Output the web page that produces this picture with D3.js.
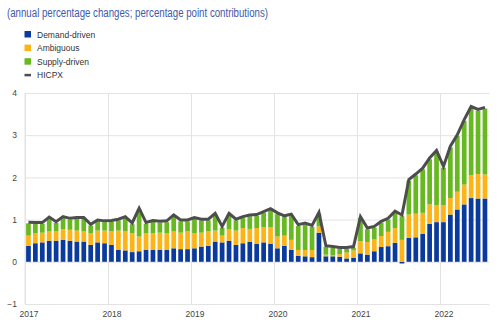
<!DOCTYPE html>
<html lang="en">
<head>
<meta charset="UTF-8">
<title>HICPX demand and supply drivers</title>
<style>
    html, body {
        margin: 0;
        padding: 0;
        background: #fff;
    }
    svg text {
        font-family: "Liberation Sans", Arial, sans-serif;
    }
</style>
</head>
<body>
<div id="chart"></div>
<script src="https://d3js.org/d3.v7.min.js"></script>
<script>
    // monthly data, Jan 2017 - Jul 2022
    const demand = [
        0.38, 0.44, 0.46, 0.50, 0.50, 0.52, 0.50, 0.48, 0.48, 0.40, 0.46, 0.44,
        0.40, 0.28, 0.27, 0.23, 0.25, 0.28, 0.28, 0.28, 0.28, 0.32, 0.30, 0.30,
        0.32, 0.36, 0.38, 0.48, 0.46, 0.50, 0.40, 0.44, 0.47, 0.43, 0.46, 0.43,
        0.32, 0.38, 0.28, 0.14, 0.13, 0.11, 0.69, 0.13, 0.13, 0.12, 0.08, 0.09,
        0.20, 0.17, 0.25, 0.35, 0.37, 0.45, -0.04, 0.57, 0.58, 0.66, 0.90, 0.94,
        0.94, 1.12, 1.24, 1.36, 1.51, 1.50, 1.50
    ];
    const ambiguous = [
        0.24, 0.24, 0.23, 0.22, 0.22, 0.25, 0.26, 0.26, 0.24, 0.28, 0.28, 0.30,
        0.32, 0.46, 0.45, 0.45, 0.35, 0.40, 0.40, 0.41, 0.40, 0.40, 0.39, 0.42,
        0.36, 0.33, 0.34, 0.26, 0.16, 0.27, 0.34, 0.36, 0.31, 0.37, 0.36, 0.39,
        0.28, 0.24, 0.24, 0.14, 0.15, 0.17, 0.15, 0.04, 0.03, 0.06, 0.14, 0.18,
        0.29, 0.30, 0.28, 0.26, 0.34, 0.35, 0.52, 0.55, 0.56, 0.50, 0.46, 0.40,
        0.40, 0.39, 0.42, 0.47, 0.54, 0.58, 0.57
    ];
    const supply = [
        0.29, 0.22, 0.21, 0.31, 0.20, 0.27, 0.24, 0.28, 0.30, 0.18, 0.22, 0.20,
        0.23, 0.24, 0.32, 0.21, 0.64, 0.22, 0.27, 0.24, 0.26, 0.36, 0.27, 0.24,
        0.34, 0.29, 0.26, 0.38, 0.19, 0.35, 0.24, 0.24, 0.30, 0.29, 0.34, 0.41,
        0.53, 0.44, 0.58, 0.57, 0.61, 0.55, 0.30, 0.18, 0.17, 0.13, 0.09, 0.06,
        0.55, 0.30, 0.28, 0.32, 0.29, 0.37, 0.56, 0.80, 0.91, 1.03, 1.07, 1.27,
        0.89, 1.20, 1.32, 1.51, 1.60, 1.50, 1.56
    ];
    const hicpx = [
        0.94, 0.93, 0.93, 1.06, 0.95, 1.07, 1.03, 1.05, 1.05, 0.89, 0.99, 0.97,
        0.98, 1.01, 1.07, 0.92, 1.27, 0.93, 0.98, 0.96, 0.97, 1.11, 0.99, 0.99,
        1.05, 1.01, 1.01, 1.15, 0.84, 1.15, 1.01, 1.07, 1.11, 1.12, 1.19, 1.26,
        1.16, 1.09, 1.13, 0.88, 0.92, 0.86, 1.17, 0.38, 0.36, 0.34, 0.34, 0.36,
        1.07, 0.80, 0.84, 0.96, 1.03, 1.20, 1.11, 1.95, 2.08, 2.22, 2.46, 2.64,
        2.26, 2.74, 3.01, 3.37, 3.68, 3.61, 3.66
    ];
    const seriesNames = ["Demand-driven", "Ambiguous", "Supply-driven"];
    const lineName = "HICPX";
    const yearLabels = ["2017", "2018", "2019", "2020", "2021", "2022"];
    const yTicks = [-1, 0, 1, 2, 3, 4];
    const title = "(annual percentage changes; percentage point contributions)";

    const colours = ["#0a3a9c", "#fcb416", "#67b821"];
    const lineColour = "#4d4d4d";

    const width = 500, height = 331;
    const plotLeft = 25, plotTop = 93, plotBottom = 304;
    const monthW = 83 / 12;
    const plotRight = plotLeft + demand.length * monthW;

    const svg = d3.select("#chart")
        .append("svg")
        .attr("width", width)
        .attr("height", height);

    const x = d3.scaleBand()
        .domain(d3.range(demand.length))
        .range([plotLeft, plotRight])
        .paddingInner(0.32)
        .paddingOuter(0.16);

    const y = d3.scaleLinear()
        .domain([-1, 4])
        .range([plotBottom, plotTop]);

    const xYear = d3.scalePoint()
        .domain(yearLabels)
        .range([plotLeft, plotLeft + 5 * 12 * x.step()]);

    // GRIDLINES + Y AXIS
    svg.append("g")
        .attr("transform", `translate(${plotLeft},0)`)
        .call(d3.axisLeft(y).tickValues(yTicks).tickSize(-(plotRight - plotLeft + 1)).tickPadding(8).tickFormat(d3.format("d")))
        .call(g => g.select(".domain").remove())
        .call(g => g.selectAll("line").attr("stroke", "#e3e3e3"))
        .call(g => g.selectAll("text").attr("fill", "#444").style("font-size", "8.5px"));

    // vertical year lines + labels
    svg.append("g")
        .attr("transform", `translate(0,${plotBottom})`)
        .call(d3.axisBottom(xYear).tickSize(-(plotBottom - plotTop)).tickPadding(7))
        .call(g => g.select(".domain").remove())
        .call(g => g.selectAll("line").attr("stroke", "#e3e3e3"))
        .call(g => g.selectAll("text").attr("fill", "#444").attr("dx", 3.5).style("font-size", "8.5px"));

    svg.append("line")
        .attr("x1", plotLeft).attr("x2", plotLeft)
        .attr("y1", plotTop).attr("y2", plotBottom)
        .attr("stroke", "#e3e3e3");

    // STACKED BARS
    const rows = demand.map((d, i) => ({
        "Demand-driven": d,
        "Ambiguous": ambiguous[i],
        "Supply-driven": supply[i]
    }));

    const stacked = d3.stack()
        .keys(seriesNames)
        .offset(d3.stackOffsetDiverging)(rows);

    svg.append("g")
        .selectAll("g")
        .data(stacked)
        .join("g")
        .attr("fill", (d, i) => colours[i])
        .selectAll("rect")
        .data(d => d)
        .join("rect")
        .attr("x", (d, i) => x(i))
        .attr("width", x.bandwidth())
        .attr("y", d => y(Math.max(d[0], d[1])))
        .attr("height", d => Math.abs(y(d[0]) - y(d[1])));

    // HICPX LINE
    const line = d3.line()
        .x((d, i) => x(i) + x.bandwidth() / 2)
        .y(d => y(d));

    svg.append("path")
        .datum(hicpx)
        .attr("d", line)
        .attr("fill", "none")
        .attr("stroke", lineColour)
        .attr("stroke-width", 3);

    // TITLE
    svg.append("text")
        .attr("x", 7)
        .attr("y", 17)
        .attr("fill", "#3d5aa8")
        .attr("textLength", 261)
        .attr("lengthAdjust", "spacingAndGlyphs")
        .style("font-size", "12px")
        .text(title);

    // LEGEND
    const legend = svg.append("g");
    const rowH = 13.6;

    seriesNames.forEach((name, i) => {
        legend.append("rect")
            .attr("x", 24.5)
            .attr("y", 31 + i * rowH)
            .attr("width", 6.5)
            .attr("height", 6.5)
            .attr("fill", colours[i]);
        legend.append("text")
            .attr("x", 37)
            .attr("y", 37.5 + i * rowH)
            .attr("fill", "#333")
            .style("font-size", "8.5px")
            .text(name);
    });

    legend.append("line")
        .attr("x1", 24.5).attr("x2", 31)
        .attr("y1", 34.3 + 3 * rowH).attr("y2", 34.3 + 3 * rowH)
        .attr("stroke", lineColour)
        .attr("stroke-width", 2.5);
    legend.append("text")
        .attr("x", 37)
        .attr("y", 37.5 + 3 * rowH)
        .attr("fill", "#333")
        .style("font-size", "8.5px")
        .text(lineName);
</script>
</body>
</html>
